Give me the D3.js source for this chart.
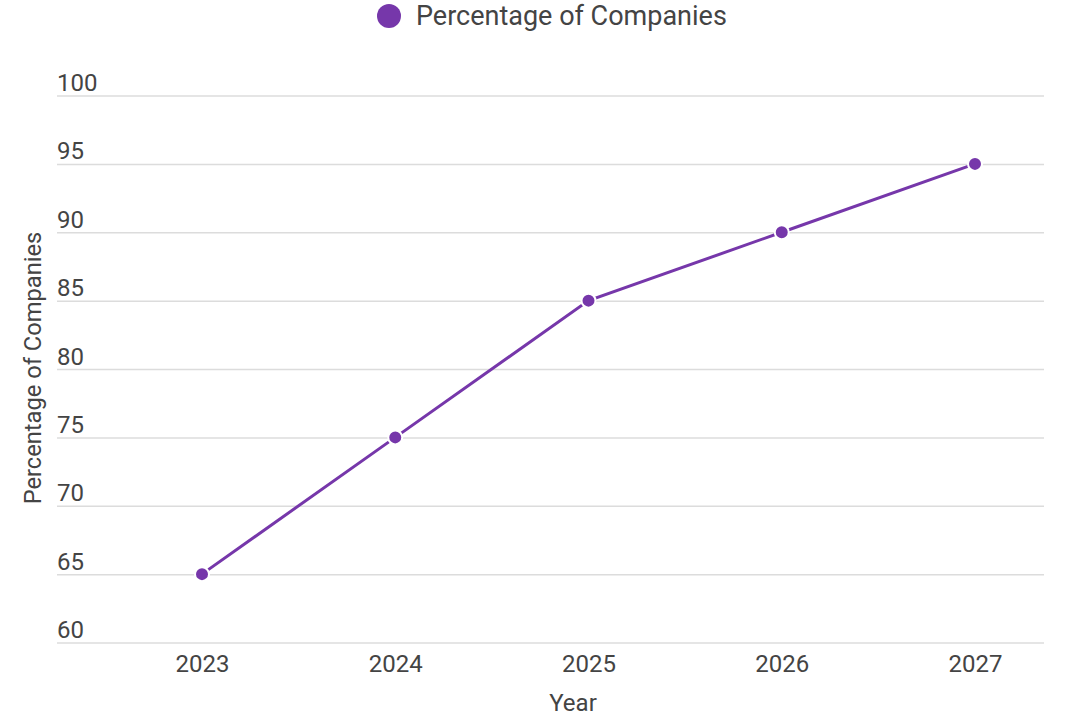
<!DOCTYPE html>
<html><head><meta charset="utf-8">
<script src="https://cdn.jsdelivr.net/npm/d3@7"></script>
<style>body{margin:0;background:#fff;}svg{display:block;font-family:Roboto,sans-serif;}</style>
</head><body>
<svg id="c" width="1073" height="726"></svg>
<script>
const years = ["2023","2024","2025","2026","2027"];
const values = [65, 75, 85, 90, 95];
const yTicks = [60, 65, 70, 75, 80, 85, 90, 95, 100];
const seriesName = "Percentage of Companies";
const xTitle = "Year";
const yTitle = "Percentage of Companies";

const color = "#7637aa";
const textColor = "#444";
const svg = d3.select("#c");
const gridLeft = 57, gridRight = 1044;
const x = d3.scalePoint().domain(years).range([202, 975]);
const y = d3.scaleLinear().domain([60, 100]).range([642.5, 95.5]);

// gridlines + y labels
const yAxis = svg.append("g").attr("transform", `translate(${gridLeft},0)`)
  .call(d3.axisRight(y).tickValues(yTicks).tickSize(gridRight - gridLeft).tickFormat(d3.format("d")));
yAxis.select(".domain").remove();
yAxis.selectAll(".tick line").attr("stroke", "#dcdcdc").attr("stroke-width", 1.5);
yAxis.selectAll(".tick text").attr("x", 0).attr("dy", -5).attr("text-anchor", "start")
  .attr("dominant-baseline", "auto")
  .attr("fill", textColor).style("font-size", "24px").style("font-family", "Roboto, sans-serif");

// x labels
const xAxis = svg.append("g").attr("transform", "translate(0,642.5)")
  .call(d3.axisBottom(x).tickSize(0).tickPadding(12));
xAxis.select(".domain").remove();
xAxis.selectAll(".tick text").attr("fill", textColor).style("font-size", "24px").style("font-family", "Roboto, sans-serif");

// axis titles
svg.append("text").attr("x", 573).attr("y", 711).attr("text-anchor", "middle")
  .attr("fill", textColor).style("font-size", "24px").text(xTitle);
svg.append("text").attr("transform", "translate(41,368) rotate(-90)").attr("text-anchor", "middle")
  .attr("fill", textColor).style("font-size", "23.7px").text(yTitle);

// line
const data = years.map((yr, i) => ({yr, v: values[i]}));
svg.append("path").datum(data)
  .attr("fill", "none").attr("stroke", color).attr("stroke-width", 3)
  .attr("d", d3.line().x(d => x(d.yr)).y(d => y(d.v)));
svg.selectAll("circle.pt").data(data).join("circle").attr("class", "pt")
  .attr("cx", d => x(d.yr)).attr("cy", d => y(d.v)).attr("r", 7)
  .attr("fill", color).attr("stroke", "#fff").attr("stroke-width", 2);

// legend
svg.append("circle").attr("cx", 389).attr("cy", 16).attr("r", 12).attr("fill", color);
svg.append("text").attr("x", 416).attr("y", 25).attr("fill", textColor)
  .style("font-size", "27px").text(seriesName);
</script>
</body></html>
